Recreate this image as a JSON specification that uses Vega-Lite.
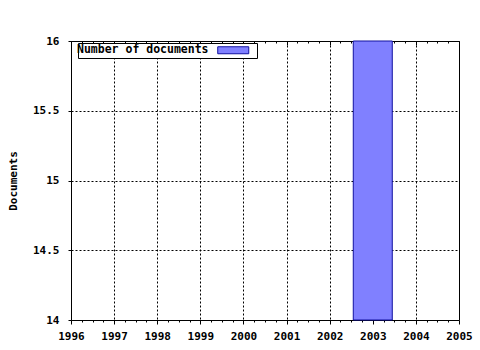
{
  "$schema": "https://vega.github.io/schema/vega-lite/v6.json",
  "width": 388,
  "height": 279,
  "autosize": {"type": "none"},
  "padding": {"left": 71, "top": 41, "right": 21, "bottom": 30},
  "background": "white",
  "config": {
    "view": {"stroke": null},
    "font": "DejaVu Sans Mono",
    "axis": {
      "labelFont": "DejaVu Sans Mono",
      "labelFontWeight": "bold",
      "labelFontSize": 11,
      "labelColor": "#000",
      "titleFont": "DejaVu Sans Mono",
      "titleFontSize": 11,
      "titleFontWeight": "bold",
      "titleColor": "#000",
      "domainColor": "#000",
      "domainWidth": 1,
      "tickColor": "#000",
      "tickWidth": 1,
      "gridColor": "#000",
      "gridDash": [2, 2],
      "gridOpacity": 1,
      "gridWidth": 1
    }
  },
  "data": {"values": [{"year": 2003, "documents": 16, "series": "Number of documents"}]},
  "layer": [
    {
      "mark": {"type": "bar", "width": 39, "stroke": "#1010a0", "strokeWidth": 1, "opacity": 1},
      "encoding": {
        "x": {
          "field": "year", "type": "quantitative",
          "scale": {"domain": [1996, 2005], "nice": false, "zero": false, "padding": 0},
          "axis": {"orient": "bottom", "values": [1996, 1997, 1998, 1999, 2000, 2001, 2002, 2003, 2004, 2005], "format": "d", "grid": true, "tickSize": 4, "labelPadding": 6, "title": null, "labelFlush": false, "labelOverlap": false}
        },
        "y": {
          "field": "documents", "type": "quantitative",
          "scale": {"domain": [14, 16], "nice": false, "zero": false, "padding": 0},
          "axis": {"orient": "left", "values": [14, 14.5, 15, 15.5, 16], "format": "~g", "grid": true, "tickSize": 3, "labelPadding": 9, "title": "Documents", "titlePadding": 14, "labelFlush": false}
        },
        "y2": {"datum": 14},
        "color": {
          "field": "series", "type": "nominal",
          "scale": {"range": ["#8080ff"]},
          "legend": {
            "orient": "none", "legendX": 7, "legendY": 2, "title": null, "direction": "vertical",
            "symbolType": "M-4.43,-1H4.43V1H-4.43ZM5.6,0", "symbolSize": 49,
            "symbolStrokeColor": "#1010a0", "symbolStrokeWidth": 1, "symbolOpacity": 1,
            "symbolOffset": 148, "labelOffset": -162,
            "labelFont": "DejaVu Sans Mono", "labelFontWeight": "bold", "labelFontSize": 11.5, "labelColor": "#000", "labelLimit": 300,
            "padding": 1.5, "strokeColor": "#000", "fillColor": "#fff"
          }
        }
      }
    },
    {
      "mark": {"type": "point", "opacity": 0},
      "encoding": {
        "x": {"field": "year", "type": "quantitative", "scale": {"domain": [1996, 2005], "nice": false, "zero": false, "padding": 0},
          "axis": {"orient": "top", "values": [1996, 1997, 1998, 1999, 2000, 2001, 2002, 2003, 2004, 2005], "labels": false, "grid": false, "tickSize": -4, "title": null}},
        "y": {"field": "documents", "type": "quantitative", "scale": {"domain": [14, 16], "nice": false, "zero": false, "padding": 0},
          "axis": {"orient": "right", "labels": false, "ticks": false, "grid": false, "title": null}}
      }
    },
    {
      "mark": {"type": "point", "opacity": 0},
      "encoding": {
        "x": {"field": "year", "type": "quantitative", "scale": {"domain": [1996, 2005], "nice": false, "zero": false, "padding": 0},
          "axis": {"orient": "bottom", "values": [1996.25, 1996.5, 1996.75, 1997.25, 1997.5, 1997.75, 1998.25, 1998.5, 1998.75, 1999.25, 1999.5, 1999.75, 2000.25, 2000.5, 2000.75, 2001.25, 2001.5, 2001.75, 2002.25, 2002.5, 2002.75, 2003.25, 2003.5, 2003.75, 2004.25, 2004.5, 2004.75], "labels": false, "domain": false, "grid": false, "tickSize": 2, "title": null}}
      }
    },
    {
      "mark": {"type": "point", "opacity": 0},
      "encoding": {
        "x": {"field": "year", "type": "quantitative", "scale": {"domain": [1996, 2005], "nice": false, "zero": false, "padding": 0},
          "axis": {"orient": "top", "values": [1996.25, 1996.5, 1996.75, 1997.25, 1997.5, 1997.75, 1998.25, 1998.5, 1998.75, 1999.25, 1999.5, 1999.75, 2000.25, 2000.5, 2000.75, 2001.25, 2001.5, 2001.75, 2002.25, 2002.5, 2002.75, 2003.25, 2003.5, 2003.75, 2004.25, 2004.5, 2004.75], "labels": false, "domain": false, "grid": false, "tickSize": -2, "title": null}}
      }
    }
  ],
  "resolve": {"axis": {"x": "independent", "y": "independent"}}
}
